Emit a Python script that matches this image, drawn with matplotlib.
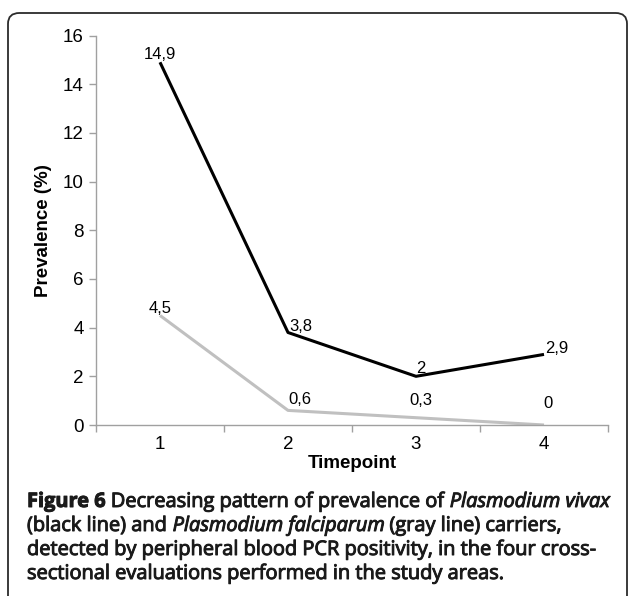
import numpy as np
import matplotlib.pyplot as plt
import matplotlib.patheffects as pe
from matplotlib.patches import FancyBboxPatch

# data
timepoints = [1, 2, 3, 4]
vivax = [14.9, 3.8, 2.0, 2.9]
falciparum = [4.5, 0.6, 0.3, 0.0]
vivax_labels = ["14,9", "3,8", "2", "2,9"]
falc_labels = ["4,5", "0,6", "0,3", "0"]

# label offsets from the point, in pixels (dx right, dy up)
vivax_off = [(0, 8), (13, 6), (5, 8), (13, 6)]
falc_off = [(0, 7), (12, 11), (5, 17), (4, 21)]

fig = plt.figure(figsize=(6.29, 5.96), dpi=100)
W, H = 629, 596

# rounded frame around the whole figure
frame = FancyBboxPatch((8 / W, -0.05), 619 / W, (596 - 13) / H + 0.05,
                       boxstyle="round,pad=0,rounding_size=0.018",
                       transform=fig.transFigure, fill=False,
                       edgecolor='#2b2b2b', linewidth=1.3)
fig.patches.append(frame)

ax = fig.add_axes([96 / W, 171 / H, 512 / W, 389.5 / H])
ax.plot(timepoints, vivax, color='black', linewidth=2.2, solid_capstyle='butt')
ax.plot(timepoints, falciparum, color='#c0c0c0', linewidth=2.2, solid_capstyle='butt')

for x, y, lab, (dx, dy) in zip(timepoints, vivax, vivax_labels, vivax_off):
    ax.annotate(lab, (x, y), xytext=(dx * 0.72, dy * 0.72), textcoords='offset points',
                ha='center', va='center', fontsize=12, family='Liberation Sans')
for x, y, lab, (dx, dy) in zip(timepoints, falciparum, falc_labels, falc_off):
    ax.annotate(lab, (x, y), xytext=(dx * 0.72, dy * 0.72), textcoords='offset points',
                ha='center', va='center', fontsize=12, family='Liberation Sans')

ax.set_xlim(0.5, 4.5)
ax.set_ylim(0, 16)
ax.set_yticks(np.arange(0, 17, 2))
ax.set_xticks(timepoints)
ax.set_xticks([0.5, 1.5, 2.5, 3.5, 4.5], minor=True)
ax.tick_params(axis='x', which='major', length=0, labelsize=13.5, pad=8)
ax.tick_params(axis='x', which='minor', length=5, color='#a0a0a0', width=1)
ax.tick_params(axis='y', length=5, color='#a0a0a0', width=1, labelsize=13.5, pad=4)
for lab in ax.get_xticklabels() + ax.get_yticklabels():
    lab.set_family('Liberation Sans')
for s in ['top', 'right']:
    ax.spines[s].set_visible(False)
for s in ['left', 'bottom']:
    ax.spines[s].set_color('#a0a0a0')
    ax.spines[s].set_linewidth(1)

ax.set_xlabel('Timepoint', fontsize=13.5, fontweight='bold', family='Liberation Sans', labelpad=1)
ax.set_ylabel('Prevalence (%)', fontsize=13.5, fontweight='bold', family='Liberation Sans', labelpad=8)

# caption, drawn run by run so bold/italic parts sit inline
caption = [
    [("Figure 6", 'bold', 'normal'), (" Decreasing pattern of prevalence of ", 'normal', 'normal'),
     ("Plasmodium vivax", 'normal', 'italic')],
    [("(black line) and ", 'normal', 'normal'), ("Plasmodium falciparum", 'normal', 'italic'),
     (" (gray line) carriers,", 'normal', 'normal')],
    [("detected by peripheral blood PCR positivity, in the four cross-", 'normal', 'normal')],
    [("sectional evaluations performed in the study areas.", 'normal', 'normal')],
]
line_y = [502, 526, 550, 574]
heavier = [pe.withStroke(linewidth=0.7, foreground='#1a1a1a')]

fig.canvas.draw()
renderer = fig.canvas.get_renderer()
for runs, yy in zip(caption, line_y):
    x0 = 27
    for txt, wt, st in runs:
        t = fig.text(x0 / W, 1 - yy / H, txt, fontsize=14.4, fontweight=wt, style=st,
                     family='Open Sans', va='center', ha='left', color='#1a1a1a',
                     path_effects=heavier)
        bb = t.get_window_extent(renderer)
        x0 += bb.width

fig.savefig('out.png', dpi=100)
